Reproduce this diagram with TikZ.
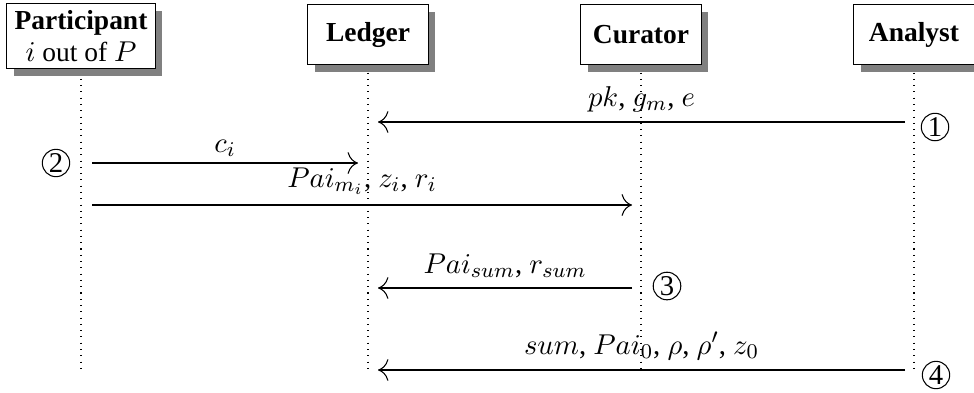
\documentclass[tikz,border=0pt]{standalone}
\usepackage[no-math]{fontspec}
\setmainfont{Liberation Serif}
\usetikzlibrary{shadows,arrows.meta}
\begin{document}
\fontsize{10.95pt}{12.5pt}\selectfont
\begin{tikzpicture}[x=0.382pt,y=-0.382pt,
  actor/.style={draw, fill=white, font=\fontsize{10.5pt}{12pt}\selectfont\bfseries, align=center,
    minimum width=46pt, minimum height=23pt, inner xsep=3pt, inner ysep=2.8pt,
    drop shadow={shadow xshift=2.7pt, shadow yshift=-2.7pt, fill=black!50, opacity=1}},
  life/.style={dotted},
  msg/.style={-{To[scale=1.6]}},
  num/.style={circle, draw, inner sep=0.5pt}]
\useasboundingbox (0,0) rectangle (974,392);
% lifelines
\coordinate (Pend) at (81,372);
\coordinate (Lend) at (368,372);
\coordinate (Cend) at (641,372);
\coordinate (Aend) at (914,372);
\draw[life] (81,60) -- (Pend);
\draw[life] (368,60) -- (Lend);
\draw[life] (641,60) -- (Cend);
\draw[life] (914,60) -- (Aend);
% actors
\node[actor, anchor=north] (P) at (81,3) {Participant\\{\mdseries $i$ out of $P$}};
\node[actor, anchor=north] (L) at (368,4) {Ledger};
\node[actor, anchor=north] (C) at (641,4) {Curator};
\node[actor, anchor=north] (A) at (914,4) {Analyst};
% message end points
\coordinate (m1s) at (905,122); \coordinate (m1e) at (378,122);
\coordinate (m2s) at (92,163);  \coordinate (m2e) at (358,163);
\coordinate (m3s) at (92,205);  \coordinate (m3e) at (632,205);
\coordinate (m4s) at (632,288); \coordinate (m4e) at (378,288);
\coordinate (m5s) at (905,370); \coordinate (m5e) at (378,370);
\draw[msg] (m1s) -- node[above] {$pk$, $g_m$, $e$} (m1e);
\draw[msg] (m2s) -- node[above, yshift=-1.5pt] {$c_i$} (m2e);
\draw[msg] (m3s) -- node[above] {$Pai_{m_i}$, $z_i$, $r_i$} (m3e);
\draw[msg] (m4s) -- node[above] {$Pai_{sum}$, $r_{sum}$} (m4e);
\draw[msg] (m5s) -- node[above] {$sum$, $Pai_0$, $\rho$, $\rho'$, $z_0$} (m5e);
% step numbers
\node[num] (n1) at (935,127) {1};
\node[num] (n2) at (56,163) {2};
\node[num] (n3) at (667,286) {3};
\node[num] (n4) at (936,375) {4};
\end{tikzpicture}
\end{document}
